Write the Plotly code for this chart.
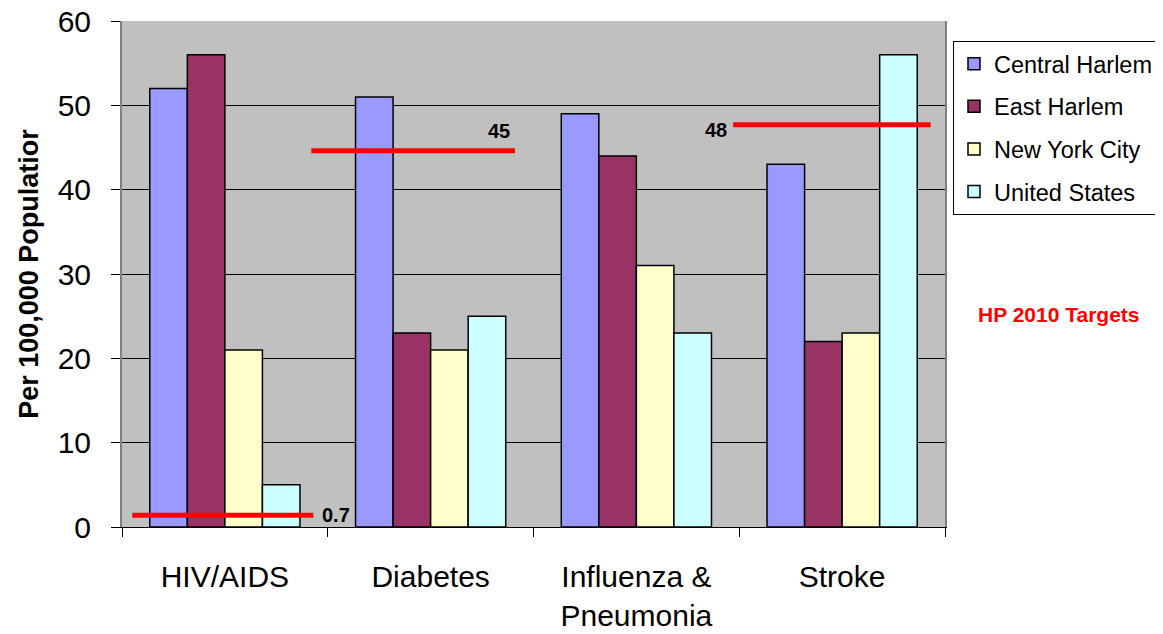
import plotly.graph_objects as go

categories = ["HIV/AIDS", "Diabetes", "Influenza &<br>Pneumonia", "Stroke"]
series_names = ["Central Harlem", "East Harlem", "New York City", "United States"]
central_harlem = [52, 51, 49, 43]
east_harlem = [56, 23, 44, 22]
new_york_city = [21, 21, 31, 23]
united_states = [5, 25, 23, 56]
series_colors = ["#9999FF", "#993366", "#FFFFCC", "#CCFFFF"]

# HP 2010 target labels and the level at which each red line is drawn
target_labels = ["0.7", "45", None, "48"]
target_line_levels = [1.4, 44.6, None, 47.7]

values = [central_harlem, east_harlem, new_york_city, united_states]
FONT = "Liberation Sans, Arial"

fig = go.Figure()
for i, (name, vals) in enumerate(zip(series_names, values)):
    fig.add_trace(go.Bar(
        x=categories, y=vals, name=name,
        marker=dict(color=series_colors[i], line=dict(color="black", width=1.5)),
        legendgroup=name,
    ))

# red target lines and labels
line_extents = [(-0.45, 0.43), (0.42, 1.41), None, (2.47, 3.43)]
label_pos = [(0.46, "left", 0.0), (1.33, "center", 2.4), None, (2.385, "center", -0.6)]
for i in range(len(categories)):
    if target_line_levels[i] is None:
        continue
    x0, x1 = line_extents[i]
    fig.add_shape(type="line", xref="x", yref="y", x0=x0, x1=x1,
                  y0=target_line_levels[i], y1=target_line_levels[i],
                  line=dict(color="#FF0000", width=5))
    lx, anc, dy = label_pos[i]
    fig.add_annotation(x=lx, y=target_line_levels[i] + dy, xref="x", yref="y",
                       text="<b>" + target_labels[i] + "</b>", showarrow=False,
                       xanchor=anc, yanchor="middle",
                       font=dict(family=FONT, size=20, color="black"))

fig.add_annotation(x=(1058 - 122) / 823, y=(527 - 314) / 506, xref="paper", yref="paper",
                   text="<b>HP 2010 Targets</b>", showarrow=False,
                   xanchor="center", yanchor="middle",
                   font=dict(family=FONT, size=21, color="#FF0000"))

# the page body adds an 8px offset; margins compensate for it
fig.update_layout(
    width=1163, height=634,
    margin=dict(l=114, r=226, t=13, b=115, pad=0, autoexpand=False),
    paper_bgcolor="white", plot_bgcolor="#C0C0C0",
    barmode="group", bargap=0.27, bargroupgap=0,
    font=dict(family=FONT, color="black"),
    legend=dict(x=(953 - 122) / 823, y=(527 - 41) / 506, xanchor="left", yanchor="top",
                bgcolor="white", bordercolor="black", borderwidth=1,
                font=dict(size=23.5), traceorder="grouped", tracegroupgap=9, itemwidth=30),
    showlegend=True,
)
fig.update_xaxes(tickfont=dict(size=30), ticks="outside", ticklen=9, tickson="boundaries",
                 tickcolor="black", showline=True, linecolor="black", linewidth=1,
                 showgrid=False, automargin=False, ticklabelstandoff=23,
                 ticklabeloverflow="allow")
fig.update_yaxes(range=[0, 60], dtick=10, tickfont=dict(size=30), ticks="outside", ticklen=9,
                 tickcolor="black", showline=True, linecolor="#808080", linewidth=2,
                 mirror=True, showgrid=True, gridcolor="black", gridwidth=1, zeroline=False,
                 automargin=False, ticklabelstandoff=14, ticklabeloverflow="allow",
                 title=dict(text="<b>Per 100,000 Populatior</b>", font=dict(size=27), standoff=11))

fig.write_html("out.html")
